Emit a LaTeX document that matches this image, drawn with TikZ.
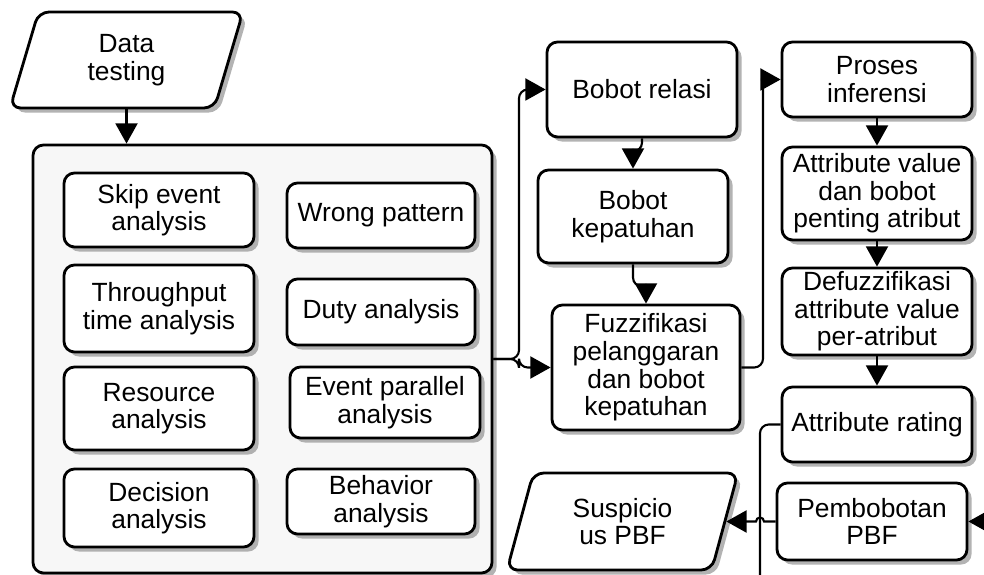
\documentclass[tikz,border=0pt]{standalone}
\usepackage{fontspec}
\setmainfont{Liberation Sans}
\usetikzlibrary{shapes.geometric,arrows.meta,shadows}

\begin{document}
\begin{tikzpicture}[
    box/.style={draw, rounded corners=6pt, line width=1.6pt, fill=white, align=center,
      minimum width=3.8cm, inner sep=1pt,
      drop shadow={shadow xshift=2.6pt, shadow yshift=-2.6pt, fill=gray!85, opacity=.7},
      font=\fontsize{15}{15.7}\selectfont},
    io/.style={box, trapezium, trapezium left angle=62.5, trapezium right angle=117.5,
      trapezium stretches body},
    line/.style={line width=1.2pt, rounded corners=5pt},
    conn/.style={line, -{Triangle[width=12.5pt,length=11.5pt]}}
  ]
  \useasboundingbox (0,0) rectangle (19.68,-11.5);

  % input and the group of analyses
  \node (data) [io, minimum width=4.66cm, minimum height=1.92cm] at (2.53,-1.2) {Data\\testing};
  \node (cont) [box, fill=gray!6, minimum width=9.18cm, minimum height=8.56cm] at (5.25,-7.18) {};

  \begin{scope}[every node/.style={box}]
    \node (skip)  [minimum height=1.48cm] at (3.18,-4.2)  {Skip event\\analysis};
    \node (thru)  [minimum height=1.74cm] at (3.18,-6.17) {Throughput\\time analysis};
    \node (res)   [minimum height=1.66cm] at (3.18,-8.17) {Resource\\analysis};
    \node (dec)   [minimum height=1.56cm] at (3.18,-10.16) {Decision\\analysis};
    \node (wrong) [minimum width=3.76cm, minimum height=1.3cm]  at (7.62,-4.31) {Wrong pattern};
    \node (duty)  [minimum width=3.76cm, minimum height=1.32cm] at (7.62,-6.24) {Duty analysis};
    \node (evpar) [minimum height=1.42cm] at (7.70,-8.05) {Event parallel\\analysis};
    \node (behav) [minimum width=3.76cm, minimum height=1.3cm]  at (7.62,-10.03) {Behavior\\analysis};
  \end{scope}

  % fuzzy steps
  \begin{scope}[every node/.style={box}]
    \node (brel)   [minimum height=1.9cm]  at (12.84,-1.79) {Bobot relasi};
    \node (bkep)   [minimum height=1.86cm] at (12.66,-4.33) {Bobot\\kepatuhan};
    \node (fuzz)   [minimum width=3.76cm, minimum height=2.5cm] at (12.92,-7.35) {Fuzzifikasi\\pelanggaran\\dan bobot\\kepatuhan};
    \node (infer)  [minimum height=1.5cm]  at (17.54,-1.59) {Proses\\inferensi};
    \node (attval) [minimum height=1.86cm] at (17.54,-3.87) {Attribute value\\dan bobot\\penting atribut};
    \node (defuzz) [minimum height=1.74cm] at (17.54,-6.23) {Defuzzifikasi\\attribute value\\per-atribut};
    \node (rating) [minimum height=1.5cm]  at (17.54,-8.49) {Attribute rating};
    \node (pbf)    [minimum height=1.54cm] at (17.44,-10.43) {Pembobotan\\PBF};
  \end{scope}
  \node (susp) [io, minimum width=4.62cm, minimum height=1.94cm] at (12.45,-10.43) {Suspicio\\us PBF};

  \coordinate (jn)  at (10.38,-7.18);
  \coordinate (up)  at (15.26,-7.35);
  \coordinate (out) at (15.2,-11.5);
  \coordinate (in)  at (19.68,-10.43);
  \coordinate (hop) at (15.28,-10.43);

  \draw[conn] (data.south) -- (data.south |- cont.north);
  \draw[conn] (cont.east) -- (jn) |- (brel.west);
  \draw[conn] (cont.east) -- (jn) |- (fuzz.west);
  \draw[conn] (brel.south) -- ++(0,-0.26) -| (bkep.north);
  \draw[conn] (bkep.south) -- ++(0,-0.44) -| (fuzz.north);
  \draw[conn] (fuzz.east) -- (up) |- (infer.west);
  \path (infer) edge[conn] (attval);
  \path (attval) edge[conn] (defuzz);
  \path (defuzz) edge[conn] (rating);
  \draw[line] (rating.west) -| (out);
  \draw[conn] (in) -- (pbf.east);
  \draw[conn, sharp corners] (pbf.west) -- (hop) arc[start angle=0, end angle=180, radius=0.08] -- (susp.east);

\end{tikzpicture}
\end{document}
